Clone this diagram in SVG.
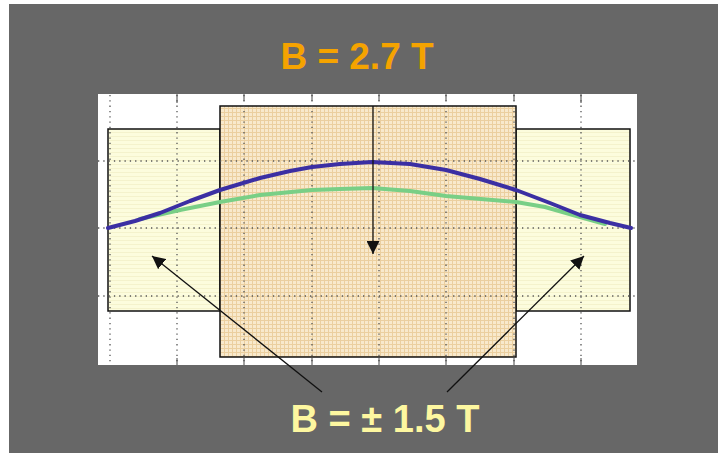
<svg xmlns="http://www.w3.org/2000/svg" width="718" height="453" viewBox="0 0 718 453">
<style>
.box{stroke:#111;stroke-width:1.5}
.grid{stroke:#555;stroke-width:1.3;stroke-dasharray:1.3 4;fill:none}
.tick{stroke:#444;stroke-width:1}
.curve{fill:none;stroke-width:4;stroke-linejoin:round;stroke-linecap:round}
.arrow{stroke:#111;stroke-width:1.3;fill:none;marker-end:url(#ah)}
.lbl{font-family:"Liberation Sans",Arial,sans-serif;font-weight:bold;text-anchor:middle}
</style>
<defs>
<marker id="ah" viewBox="0 0 10 10" refX="10" refY="5" markerWidth="13" markerHeight="13" markerUnits="userSpaceOnUse" orient="auto">
<path d="M0,0 L10,5 L0,10 Z" fill="#111"/>
</marker>
<pattern id="tex" width="4" height="4" patternUnits="userSpaceOnUse">
<rect width="4" height="4" fill="#f8e9cc"/>
<path d="M0,0.5 H4 M0.5,0 V4" stroke="#ebcf9f" stroke-width="1"/>
</pattern>
<pattern id="ytex" width="4" height="4" patternUnits="userSpaceOnUse">
<rect width="4" height="4" fill="#fcfcdd"/>
<path d="M0,0.5 H4" stroke="#f4f2cc" stroke-width="1"/>
</pattern>
</defs>
<rect x="0" y="0" width="718" height="453" fill="#ffffff"/>
<rect x="9" y="4" width="709" height="449" fill="#676767"/>
<g id="chart">
<rect x="98" y="94" width="539" height="271" fill="#ffffff"/>
</g>
<g id="left-magnet">
<rect class="box" x="108" y="129" width="112" height="182" fill="url(#ytex)"/>
</g>
<g id="right-magnet">
<rect class="box" x="516" y="129" width="114" height="182" fill="url(#ytex)"/>
</g>
<g id="center-magnet">
<rect class="box" x="220" y="106" width="296" height="251" fill="url(#tex)"/>
</g>
<g id="grid">
<path class="grid" d="M110,95V365 M177,95V365 M244,95V365 M312,95V365 M379,95V365 M446,95V365 M514,95V365 M581,95V365"/>
<path class="grid" d="M98,161H637 M98,228H637 M98,296H637"/>
<path class="tick" d="M177,94V103 M244,94V101 M312,94V101 M379,94V101 M446,94V101 M514,94V101 M581,94V103 M244,358V365 M312,358V365 M379,358V365 M446,358V365 M514,358V365 M581,358V365 M177,358V365"/>
</g>
<g id="curves">
<polyline class="curve" stroke="#79cf86" points="140,219 180,210 220,202 260,195 312,190 340,189 372,188 410,191 446,196 516,202 545,207 580,217 605,224"/>
<polyline class="curve" stroke="#3b2fa3" points="108,228 135,221 160,213 190,201 220,190 260,178 290,171 312,167 340,164 372,162 410,164 446,170 480,179 516,190 550,203 580,215 610,223 631,228"/>
</g>
<g id="title">
<text class="lbl" x="357" y="69" font-size="37" fill="#f5a300">B = 2.7 T</text>
</g>
<g id="sublabel">
<text class="lbl" x="385" y="432" font-size="38" fill="#fdf7a0">B = ± 1.5 T</text>
</g>
<g id="connectors">
<line class="arrow" x1="373" y1="106" x2="373" y2="254"/>
<line class="arrow" x1="322" y1="392" x2="152" y2="256"/>
<line class="arrow" x1="447" y1="392" x2="584" y2="256"/>
</g>
</svg>
